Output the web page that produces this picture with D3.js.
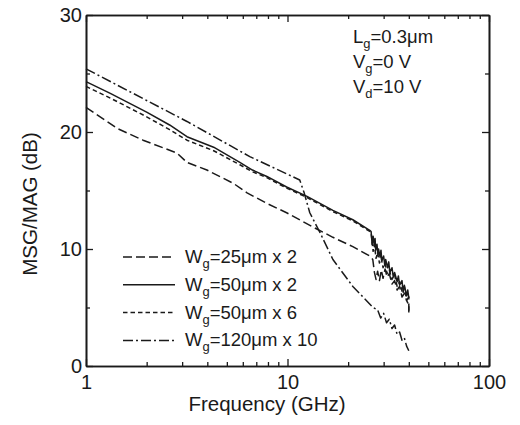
<!DOCTYPE html>
<html>
<head>
<meta charset="utf-8">
<script src="https://cdn.jsdelivr.net/npm/d3@7"></script>
<style>
  body { margin: 0; background: #fff; }
  svg { font-family: "Liberation Sans", Arial, sans-serif; }
</style>
</head>
<body>
<div id="chart"></div>
<script>
// MSG/MAG vs frequency, four gate widths

const wg25Freq = [1, 1.43, 1.92, 2.83, 3.17, 3.98, 5.4, 6.3, 7.9, 9.9, 13.3, 16.8, 21.1, 25.6,
  26.5, 27, 27.5, 28, 28.6, 29.2, 29.8, 30.5, 31.2, 32, 33, 34, 35, 36, 37, 38, 39, 40, 40];
const wg25Gain = [22.1, 20.3, 19.3, 18.2, 17.4, 16.75, 15.6, 14.8, 13.9, 13.1, 11.9, 11.0, 10.2, 9.4,
  9.1, 8.0, 7.4, 8.1, 7.3, 8.2, 7.5, 8.3, 7.6, 7.9, 7.0, 7.3, 6.5, 6.8, 5.9, 6.2, 5.6, 5.9, 4.5];

const wg50x2Freq = [1, 1.32, 2.0, 2.6, 3.17, 4.3, 5.8, 6.7, 7.9, 9.9, 12.5, 16.8, 21.1, 25.6,
  26, 26.3, 26.6, 27, 27.2, 27.4, 27.8, 28.1, 28.3, 28.8, 29.1, 29.4, 30, 30.4, 30.7, 31.4, 31.8,
  32.2, 33, 33.5, 34, 35, 35.5, 36, 37, 37.5, 38, 39, 39.5, 40];
const wg50x2Gain = [24.3, 23.3, 21.7, 20.6, 19.6, 18.7, 17.4, 16.75, 16.2, 15.3, 14.5, 13.3, 12.5, 11.6,
  11.5, 10.4, 11.1, 10.2, 10.9, 9.9, 10.4, 9.5, 10.0, 9.3, 9.9, 9.0, 9.4, 8.6, 9.1, 8.4, 8.9,
  8.0, 8.4, 7.6, 8.0, 7.2, 7.7, 6.9, 7.3, 6.3, 6.9, 6.0, 6.5, 5.8];

const wg50x6Freq = [1, 1.32, 2.0, 2.6, 3.17, 4.3, 5.8, 6.7, 7.9, 9.9, 12.5, 16.8, 21.1, 25.6,
  26, 26.6, 27, 27.5, 28, 28.6, 29.2, 29.8, 30.5, 31.2, 32, 33, 34, 35, 36, 37, 38, 39, 40, 40];
const wg50x6Gain = [23.9, 22.9, 21.3, 20.2, 19.3, 18.4, 17.2, 16.6, 16.1, 15.2, 14.4, 13.2, 12.4, 11.5,
  11.4, 9.8, 10.4, 9.2, 9.7, 8.8, 9.2, 8.4, 8.8, 7.9, 8.2, 7.4, 7.8, 6.8, 7.2, 6.4, 6.8, 5.6, 5.2, 4.6];

const wg120Freq = [1, 3.17, 6.5, 11.5, 12.1, 12.9, 14.5, 16.8, 21.1, 26.6, 28, 29, 30, 31, 32, 33,
  34, 35, 36, 37, 38, 39, 40];
const wg120Gain = [25.4, 20.9, 17.9, 15.9, 14.8, 13.1, 11.4, 9.1, 6.8, 5.0, 4.8, 4.1, 4.5, 3.7, 4.0, 3.2,
  3.5, 2.7, 2.9, 2.2, 2.4, 1.7, 1.3];

const seriesNames = ["25\u03bcm x 2", "50\u03bcm x 2", "50\u03bcm x 6", "120\u03bcm x 10"];
const seriesDash = ["9,4", null, "4.5,3", "10,3,2,3"];
const xMajor = [1, 10, 100];
const xMinor = [2, 3, 4, 5, 6, 7, 8, 9, 20, 30, 40, 50, 60, 70, 80, 90];
const yMajor = [0, 10, 20, 30];
const yMinor = [5, 15, 25];

const series = [
  { name: seriesNames[0], dash: seriesDash[0], f: wg25Freq, g: wg25Gain },
  { name: seriesNames[1], dash: seriesDash[1], f: wg50x2Freq, g: wg50x2Gain },
  { name: seriesNames[2], dash: seriesDash[2], f: wg50x6Freq, g: wg50x6Gain },
  { name: seriesNames[3], dash: seriesDash[3], f: wg120Freq, g: wg120Gain }
];

const margin = { top: 15, right: 31, bottom: 59, left: 86 },
      width = 520 - margin.left - margin.right,
      height = 425 - margin.top - margin.bottom;

const ink = "#1a1a1a";

const svg = d3.select("#chart")
  .append("svg")
  .attr("width", 520)
  .attr("height", 425)
  .append("g")
  .attr("transform", `translate(${margin.left},${margin.top})`);

const x = d3.scaleLog().domain([1, 100]).range([0, width]);
const y = d3.scaleLinear().domain([0, 30]).range([height, 0]);

function styleAxis(g) {
  g.select(".domain").attr("stroke", ink).attr("stroke-width", 1.6);
  g.selectAll(".tick line").attr("stroke", ink).attr("stroke-width", 1.3);
  g.selectAll("text").attr("fill", ink).attr("font-size", 20)
    .attr("font-family", "'Liberation Sans', Arial, sans-serif");
}

// bottom
svg.append("g").attr("transform", `translate(0,${height})`)
  .call(d3.axisBottom(x).tickValues(xMajor).tickFormat(d3.format("d")).tickSize(-7).tickSizeOuter(0).tickPadding(9))
  .call(styleAxis);
svg.append("g").attr("transform", `translate(0,${height})`)
  .call(d3.axisBottom(x).tickValues(xMinor).tickFormat("").tickSize(-4).tickSizeOuter(0))
  .call(styleAxis);
// top
svg.append("g")
  .call(d3.axisTop(x).tickValues(xMajor).tickFormat("").tickSize(-7).tickSizeOuter(0))
  .call(styleAxis);
svg.append("g")
  .call(d3.axisTop(x).tickValues(xMinor).tickFormat("").tickSize(-4).tickSizeOuter(0))
  .call(styleAxis);
// left
svg.append("g")
  .call(d3.axisLeft(y).tickValues(yMajor).tickSize(-7).tickSizeOuter(0).tickPadding(4))
  .call(styleAxis);
svg.append("g")
  .call(d3.axisLeft(y).tickValues(yMinor).tickFormat("").tickSize(-4).tickSizeOuter(0))
  .call(styleAxis);
// right
svg.append("g").attr("transform", `translate(${width},0)`)
  .call(d3.axisRight(y).tickValues(yMajor).tickFormat("").tickSize(-7).tickSizeOuter(0))
  .call(styleAxis);
svg.append("g").attr("transform", `translate(${width},0)`)
  .call(d3.axisRight(y).tickValues(yMinor).tickFormat("").tickSize(-4).tickSizeOuter(0))
  .call(styleAxis);

// axis titles
svg.append("text")
  .attr("x", 181)
  .attr("y", height + 45)
  .attr("text-anchor", "middle")
  .attr("font-size", 20.5)
  .attr("fill", ink)
  .text("Frequency (GHz)");

svg.append("text")
  .attr("transform", "rotate(-90)")
  .attr("x", -(204 - margin.top))
  .attr("y", -49)
  .attr("text-anchor", "middle")
  .attr("font-size", 20.5)
  .attr("fill", ink)
  .text("MSG/MAG (dB)");

// curves
const line = d3.line()
  .x(d => x(d[0]))
  .y(d => y(d[1]));

series.forEach(s => {
  svg.append("path")
    .datum(s.f.map((f, i) => [f, s.g[i]]))
    .attr("fill", "none")
    .attr("stroke", ink)
    .attr("stroke-width", 1.5)
    .attr("stroke-linejoin", "round")
    .attr("stroke-dasharray", s.dash)
    .attr("d", line);
});

// subscript helper
function subText(g, px, py, main, sub, rest, size) {
  const t = g.append("text")
    .attr("x", px)
    .attr("y", py)
    .attr("font-size", size)
    .attr("fill", ink);
  t.append("tspan").text(main);
  t.append("tspan").attr("font-size", size * 0.7).attr("dy", 5).text(sub);
  t.append("tspan").attr("dy", -5).text(rest);
}

// legend
const legend = svg.append("g").attr("transform", `translate(${123 - margin.left},0)`);
series.forEach((s, i) => {
  const ly = 257 - margin.top + i * 27.8;
  legend.append("line")
    .attr("x1", 0).attr("x2", 52)
    .attr("y1", ly).attr("y2", ly)
    .attr("stroke", ink)
    .attr("stroke-width", 1.5)
    .attr("stroke-dasharray", s.dash);
  subText(legend, 62, ly + 6, "W", "g", "=" + s.name, 18.5);
});

// conditions
subText(svg, 353 - margin.left, 43 - margin.top, "L", "g", "=0.3\u03bcm", 18.5);
subText(svg, 353 - margin.left, 68 - margin.top, "V", "g", "=0 V", 18.5);
subText(svg, 353 - margin.left, 93 - margin.top, "V", "d", "=10 V", 18.5);
</script>
</body>
</html>
